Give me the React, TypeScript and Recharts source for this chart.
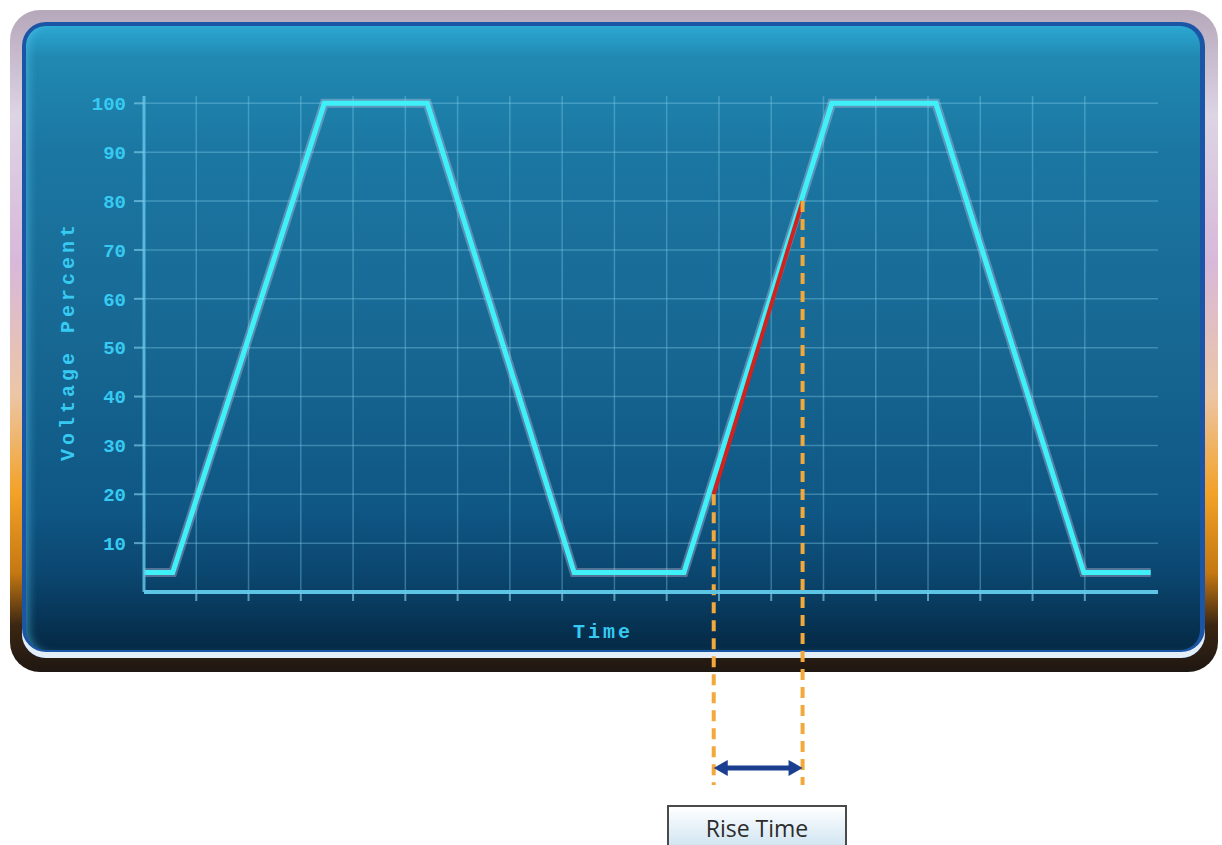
import React from 'react';
import {
  LineChart,
  Line,
  XAxis,
  YAxis,
  CartesianGrid,
  ReferenceLine,
} from 'recharts';

// waveform: time in grid divisions, voltage in percent
const times = [0, 0.55, 3.45, 5.42, 8.23, 10.33, 13.16, 15.15, 17.98, 19.26];
const voltages = [4, 4, 100, 100, 4, 4, 100, 100, 4, 4];

const yTicks = [10, 20, 30, 40, 50, 60, 70, 80, 90, 100];
const xTicks = [1, 2, 3, 4, 5, 6, 7, 8, 9, 10, 11, 12, 13, 14, 15, 16, 17, 18];

// rise time markers, 20% -> 80%
const riseLow = 20;
const riseHigh = 80;
const riseStart = 10.9;
const riseEnd = 12.6;
const markerBottom = -39.5;
const arrowLevel = -36;

const data = times.map((t, i) => ({ t, v: voltages[i] }));

const CYAN = '#3ff0f8';
const LABEL = '#36caf2';
const GRID = 'rgba(130, 205, 235, 0.38)';
const AXIS = '#5cc4e4';

const monoFont = '"Liberation Mono", "DejaVu Sans Mono", monospace';

const NoTick = () => <g />;

const DoubleArrow = (props: any) => {
  const { x1, y1, x2 } = props;
  const head = 14;
  const half = 8;
  const c = '#1b3f8f';
  return (
    <g>
      <line x1={x1 + head - 2} y1={y1} x2={x2 - head + 2} y2={y1} stroke={c} strokeWidth={5} />
      <polygon points={`${x1},${y1} ${x1 + head},${y1 - half} ${x1 + head},${y1 + half}`} fill={c} />
      <polygon points={`${x2},${y1} ${x2 - head},${y1 - half} ${x2 - head},${y1 + half}`} fill={c} />
    </g>
  );
};

export default function App() {
  return (
    <div
      style={{
        position: 'absolute',
        left: 0,
        top: 0,
        width: 1222,
        height: 845,
        background: '#ffffff',
        overflow: 'hidden',
      }}
    >
      {/* outer bezel */}
      <div
        style={{
          position: 'absolute',
          left: 10,
          top: 10,
          width: 1208,
          height: 662,
          borderRadius: 30,
          background:
            'linear-gradient(to bottom, #b6a8bb 0%, #ddd4e4 16%, #d8b8da 38%, #ecc6a6 58%, #f3a127 73%, #c57812 85%, #3a2612 93%, #1f1712 100%)',
        }}
      />
      {/* inner screen */}
      <div
        style={{
          position: 'absolute',
          left: 22,
          top: 22,
          width: 1183,
          height: 636,
          borderRadius: 24,
          background: '#1b56a6',
          boxShadow: 'inset 0 -6px 0 #e4eef8',
        }}
      />
      <div
        style={{
          position: 'absolute',
          left: 26,
          top: 26,
          width: 1174,
          height: 624,
          borderRadius: 20,
          background:
            'linear-gradient(to bottom, #2ca8d2 0%, #2089b2 5%, #1b77a2 20%, #176893 50%, #0f5684 78%, #0b466f 88%, #06304f 97%, #052a46 100%)',
          boxShadow: 'inset 8px 0 10px -6px rgba(90, 200, 240, 0.6)',
        }}
      />

      <div style={{ position: 'absolute', left: 0, top: 0 }}>
        <LineChart
          width={1222}
          height={845}
          data={data}
          margin={{ top: 96, right: 64, left: 84, bottom: 223 }}
        >
          <CartesianGrid stroke={GRID} strokeWidth={1.5} syncWithTicks />
          <XAxis
            dataKey="t"
            type="number"
            domain={[0, 19.4]}
            ticks={xTicks}
            tick={NoTick}
            height={30}
            axisLine={{ stroke: AXIS, strokeWidth: 4 }}
            tickLine={{ stroke: 'rgba(120, 200, 230, 0.7)', strokeWidth: 2 }}
            tickSize={9}
            label={{
              content: () => (
                <text
                  x={603}
                  y={638}
                  textAnchor="middle"
                  fill={LABEL}
                  fontFamily={monoFont}
                  fontWeight={700}
                  fontSize={20}
                  letterSpacing={3}
                >
                  Time
                </text>
              ),
            }}
          />
          <YAxis
            type="number"
            domain={[0, 101.5]}
            ticks={yTicks}
            width={60}
            axisLine={{ stroke: 'rgba(100, 195, 230, 0.85)', strokeWidth: 3 }}
            tickLine={{ stroke: 'rgba(120, 200, 230, 0.7)', strokeWidth: 2 }}
            tickSize={10}
            tickMargin={8}
            tick={{ fill: LABEL, fontFamily: monoFont, fontWeight: 700, fontSize: 19 }}
            label={{
              content: () => (
                <text
                  x={74}
                  y={341}
                  transform="rotate(-90 74 341)"
                  textAnchor="middle"
                  fill={LABEL}
                  fontFamily={monoFont}
                  fontWeight={700}
                  fontSize={20}
                  letterSpacing={4}
                >
                  Voltage Percent
                </text>
              ),
            }}
          />
          <Line
            type="linear"
            dataKey="v"
            stroke="rgba(230, 210, 235, 0.32)"
            strokeWidth={9}
            dot={false}
            activeDot={false}
            isAnimationActive={false}
          />
          <Line
            type="linear"
            dataKey="v"
            stroke={CYAN}
            strokeWidth={5}
            dot={false}
            activeDot={false}
            isAnimationActive={false}
          />
          <ReferenceLine
            segment={[
              { x: riseStart, y: riseLow },
              { x: riseEnd, y: riseHigh },
            ]}
            stroke="#d2221e"
            strokeWidth={4}
            ifOverflow="visible"
          />
          <ReferenceLine
            segment={[
              { x: riseStart, y: riseLow },
              { x: riseStart, y: markerBottom },
            ]}
            stroke="#f2a83a"
            strokeWidth={4}
            strokeDasharray="11 7"
            ifOverflow="visible"
          />
          <ReferenceLine
            segment={[
              { x: riseEnd, y: riseHigh },
              { x: riseEnd, y: markerBottom },
            ]}
            stroke="#f2a83a"
            strokeWidth={4}
            strokeDasharray="11 7"
            ifOverflow="visible"
          />
          <ReferenceLine
            segment={[
              { x: riseStart, y: arrowLevel },
              { x: riseEnd, y: arrowLevel },
            ]}
            ifOverflow="visible"
            shape={DoubleArrow}
          />
        </LineChart>
      </div>

      <div
        style={{
          position: 'absolute',
          left: 667,
          top: 805,
          width: 180,
          height: 50,
          boxSizing: 'border-box',
          border: '2px solid #4a4a4a',
          background: 'linear-gradient(to bottom, #ffffff 0%, #e6f1f8 45%, #c9e0ee 100%)',
          fontFamily: '"Open Sans", "Noto Sans", sans-serif',
          fontSize: 23,
          color: '#2c2c2c',
          textAlign: 'center',
          lineHeight: '42px',
        }}
      >
        Rise Time
      </div>
    </div>
  );
}
